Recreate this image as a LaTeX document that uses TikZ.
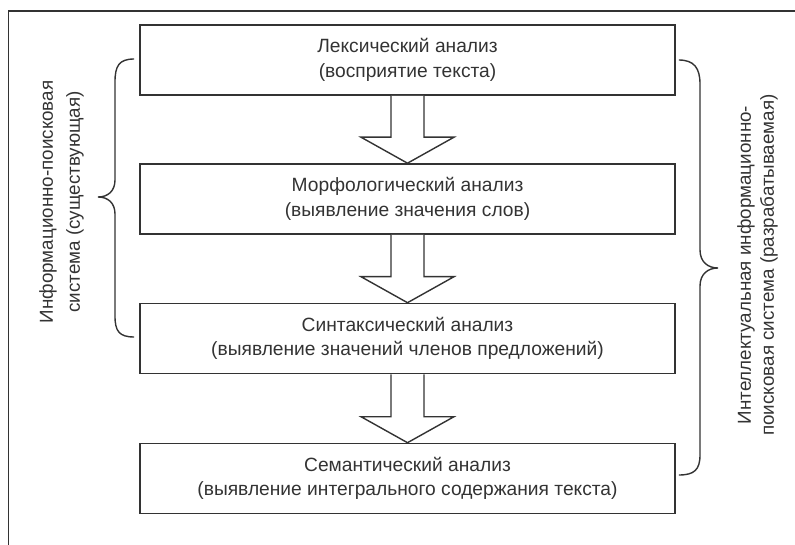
\documentclass[tikz,border=0pt]{standalone}
\usepackage{fontspec}
\setmainfont{Liberation Sans}
\usetikzlibrary{calc}
\definecolor{ink}{HTML}{333333}
\begin{document}
\begin{tikzpicture}[x=1pt,y=-1pt,
  stage/.style={draw=ink,line width=1.6pt,minimum width=535pt,minimum height=70pt,
    align=center,font=\fontsize{19.2}{24.5}\selectfont,text=ink,inner sep=0pt},
  blockarrow/.style={draw=ink,line width=1.4pt,fill=white,line join=miter},
  brace/.style={draw=ink,line width=1.4pt},
  side/.style={align=center,text=ink,rotate=90,inner sep=0pt}]
\useasboundingbox (0,0) rectangle (795,545);
\draw[ink,line width=1.6pt] (8.5,545) -- (8.5,11) -- (795,11);
\node[stage] (b1) at (407.5,60) {Лексический анализ\\(восприятие текста)};
\node[stage] (b2) at (407.5,199) {Морфологический анализ\\(выявление значения слов)};
\node[stage] (b3) at (407.5,338.5) {Синтаксический анализ\\(выявление значений членов предложений)};
\node[stage] (b4) at (407.5,478.5) {Семантический анализ\\(выявление интегрального содержания текста)};
\foreach \a/\b in {b1/b2,b2/b3,b3/b4}{
  \draw[blockarrow] ($(\a.south)+(-16.5,0)$) -- ($(\b.north)+(-16.5,-26)$) -- ($(\b.north)+(-46.5,-26)$)
    -- (\b.north) -- ($(\b.north)+(46.5,-26)$) -- ($(\b.north)+(16.5,-26)$) -- ($(\a.south)+(16.5,0)$);
}
% left brace
\coordinate (lt) at ($(b1.west)+(-5,-1)$);
\coordinate (lb) at ($(b3.west)+(-5,-1.5)$);
\coordinate (ltip) at (98,197);
\draw[brace] (lt) .. controls (119,59) and (115,66) .. (115,82) -- (115,180)
  .. controls (115,191) and (108,197) .. (ltip) .. controls (108,197) and (115,203) .. (115,214)
  -- (115,316) .. controls (115,331) and (119,337) .. (lb);
% right brace
\coordinate (rt) at ($(b1.east)+(3,0)$);
\coordinate (rb) at ($(b4.east)+(3,-3.5)$);
\coordinate (rtip) at (718,268);
\draw[brace] (rt) .. controls (694,60) and (700,68) .. (700,84) -- (700,250)
  .. controls (700,262) and (708,268) .. (rtip) .. controls (708,268) and (700,274) .. (700,286)
  -- (700,455) .. controls (700,470) and (694,475) .. (rb);
\node[side,font=\fontsize{18.8}{27}\selectfont] (lt1) at (61.5,202) {Информационно-поисковая\\система (существующая)};
\node[side,font=\fontsize{18.8}{23}\selectfont] (rt1) at (757.5,265) {Интеллектуальная информационно-\\поисковая система (разрабатываемая)};
\end{tikzpicture}
\end{document}
